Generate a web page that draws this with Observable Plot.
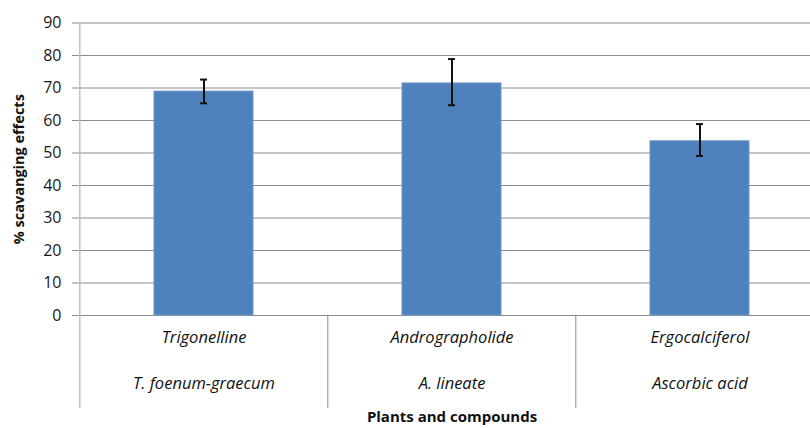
<!DOCTYPE html>
<html>
<head>
<meta charset="utf-8">
<script src="https://cdn.jsdelivr.net/npm/d3@7"></script>
<script src="https://cdn.jsdelivr.net/npm/@observablehq/plot@0.6"></script>
<style>
  html, body { margin: 0; padding: 0; background: #fff; overflow: hidden; }
  #chart svg { display: block; overflow: visible; }
</style>
</head>
<body>
<div id="chart"></div>
<script>
const compounds = ["Trigonelline", "Andrographolide", "Ergocalciferol"];
const plants = ["T. foenum-graecum", "A. lineate", "Ascorbic acid"];
const values = [68.9, 71.4, 53.6];
const errLow = [65.3, 64.7, 49.1];
const errHigh = [72.6, 78.9, 58.9];
const yTicks = [0, 10, 20, 30, 40, 50, 60, 70, 80, 90];
const yTitle = "% scavanging effects";
const xTitle = "Plants and compounds";
const dividerBottom = -28.6;

const data = compounds.map((c, i) => ({
  compound: c, plant: plants[i], value: values[i], lo: errLow[i], hi: errHigh[i]
}));

const labelFont = "'Open Sans', sans-serif";
const gridColor = "#8c8c8c";

const chart = Plot.plot({
  width: 810,
  height: 428,
  marginLeft: 79,
  marginRight: -14,
  marginTop: 22.5,
  marginBottom: 113,
  style: { fontFamily: labelFont, background: "#fff", overflow: "visible" },
  x: { domain: compounds, paddingInner: 0.6, paddingOuter: 0.3, axis: null },
  y: { domain: [0, 90], axis: null },
  marks: [
    Plot.ruleY(yTicks, { stroke: gridColor, strokeWidth: 1, insetLeft: -7 }),
    Plot.barY(data, { x: "compound", y: "value", fill: "#4f81bd", stroke: "#6f97c9", strokeWidth: 1 }),
    Plot.ruleX(data, { x: "compound", y1: "lo", y2: "hi", stroke: "#111", strokeWidth: 2 }),
    Plot.tickY(data, { x: "compound", y: "lo", stroke: "#111", strokeWidth: 2, inset: 46 }),
    Plot.tickY(data, { x: "compound", y: "hi", stroke: "#111", strokeWidth: 2, inset: 46 }),
    // y axis line
    Plot.ruleX([compounds[0]], { x: d => d, dx: -124.2, y1: dividerBottom, y2: 90, stroke: "#c0c0c0", strokeWidth: 1.5 }),
    // category dividers
    Plot.ruleX(compounds.slice(1), { x: d => d, dx: -124.2, y1: 0, y2: dividerBottom, stroke: gridColor, strokeWidth: 1 }),
    Plot.axisY({ ticks: yTicks, tickSize: 0, tickPadding: 18, fontSize: 16, fill: "#1a1a1a", fontFamily: labelFont }),
    Plot.text(data, { x: "compound", text: "compound", frameAnchor: "bottom", dy: 27, fontSize: 16.5, fontStyle: "italic", fill: "#111" }),
    Plot.text(data, { x: "compound", text: "plant", frameAnchor: "bottom", dy: 73, fontSize: 16.5, fontStyle: "italic", fill: "#111" }),
    Plot.text([xTitle], { x: () => compounds[1], text: d => d, frameAnchor: "bottom", dy: 106, fontSize: 15, fontWeight: "bold", fill: "#111" }),
    Plot.text([yTitle], { frameAnchor: "left", dx: -60, rotate: -90, textAnchor: "middle", text: d => d, fontSize: 14.5, fontWeight: "bold", fill: "#111" })
  ]
});

document.getElementById("chart").appendChild(chart);
</script>
</body>
</html>
